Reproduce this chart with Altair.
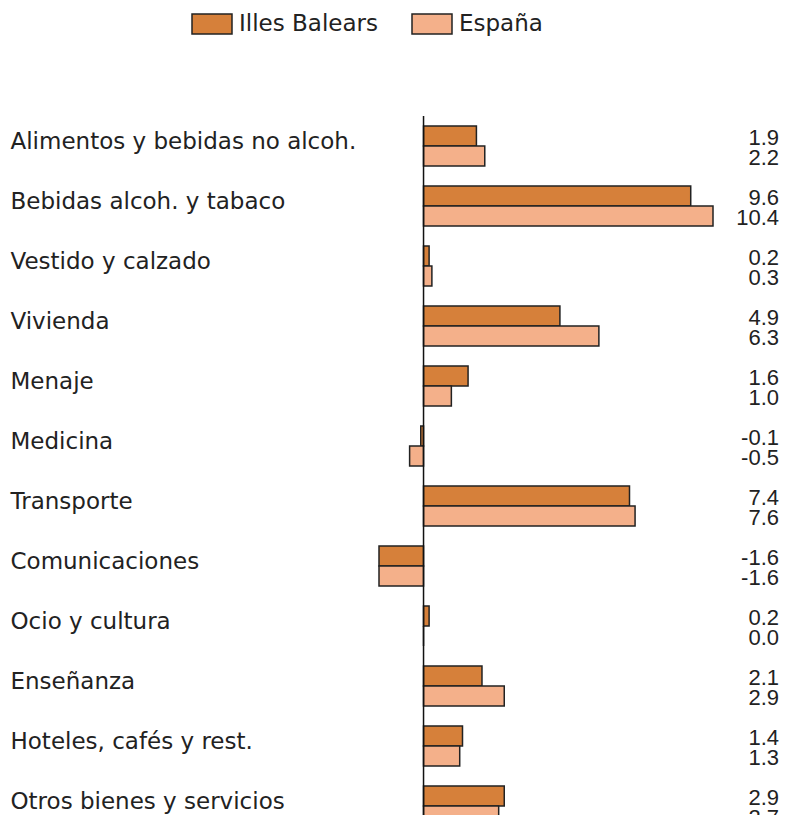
import altair as alt
import pandas as pd

categories = [
    "Alimentos y bebidas no alcoh.",
    "Bebidas alcoh. y tabaco",
    "Vestido y calzado",
    "Vivienda",
    "Menaje",
    "Medicina",
    "Transporte",
    "Comunicaciones",
    "Ocio y cultura",
    "Enseñanza",
    "Hoteles, cafés y rest.",
    "Otros bienes y servicios",
]
series_names = ["Illes Balears", "España"]
illes = [1.9, 9.6, 0.2, 4.9, 1.6, -0.1, 7.4, -1.6, 0.2, 2.1, 1.4, 2.9]
espana = [2.2, 10.4, 0.3, 6.3, 1.0, -0.5, 7.6, -1.6, 0.0, 2.9, 1.3, 2.7]
colors = ["#D6803A", "#F4B08A"]

rows = []
for c, a, b in zip(categories, illes, espana):
    rows.append({"cat": c, "serie": series_names[0], "val": a, "lab": f"{a:.1f}"})
    rows.append({"cat": c, "serie": series_names[1], "val": b, "lab": f"{b:.1f}"})
df = pd.DataFrame(rows)

FONT = "DejaVu Sans"

y_enc = alt.Y(
    "cat:N",
    sort=categories,
    scale=alt.Scale(range=[0, 720], paddingInner=1 / 3, paddingOuter=1 / 6),
    axis=alt.Axis(
        title=None, domain=False, ticks=False, tickSize=0,
        labelAlign="left", labelPadding=369, labelLimit=400,
        labelFont=FONT, labelFontSize=23, labelColor="#222222",
        labelOffset=-4,
    ),
)
yoff = alt.YOffset("serie:N", sort=series_names)
x_scale = alt.Scale(domain=[-1.6, 10.4], nice=False, zero=True)

base = alt.Chart(df)

bars = base.mark_bar(stroke="#222222", strokeWidth=1.5).encode(
    x=alt.X("val:Q", scale=x_scale, axis=None),
    y=y_enc,
    yOffset=yoff,
    color=alt.Color(
        "serie:N",
        scale=alt.Scale(domain=series_names, range=colors),
        legend=alt.Legend(
            title=None, orient="none", direction="horizontal",
            legendX=-188, legendY=-113,
            symbolType="M-1,-0.5H1V0.5H-1Z", symbolSize=1600,
            symbolStrokeColor="#222222", symbolStrokeWidth=1.5,
            symbolOpacity=1,
            labelFont=FONT, labelFontSize=23, labelColor="#222222",
            labelOffset=6, columnPadding=31, padding=0,
        ),
    ),
)

labels = base.mark_text(
    align="right", baseline="alphabetic", dy=8.5,
    font="Liberation Sans", fontSize=22,
    color="#222222",
).encode(
    x=alt.value(400),
    y=alt.Y("cat:N", sort=categories),
    yOffset=yoff,
    text=alt.Text("lab:N"),
)

zero_rule = alt.Chart(pd.DataFrame({"z": [0]})).mark_rule(
    color="#111111", strokeWidth=1.5
).encode(x=alt.X("z:Q", scale=x_scale, axis=None))

chart = (
    alt.layer(bars, zero_rule, labels)
    .properties(
        width=334,
        height=699,
        autosize=alt.AutoSizeParams(type="none"),
        padding={"left": 371, "top": 108, "right": 67, "bottom": 0},
        background="white",
    )
    .configure_view(stroke=None)
)

chart.save("out.html", embed_options={"renderer": "svg", "actions": False})
